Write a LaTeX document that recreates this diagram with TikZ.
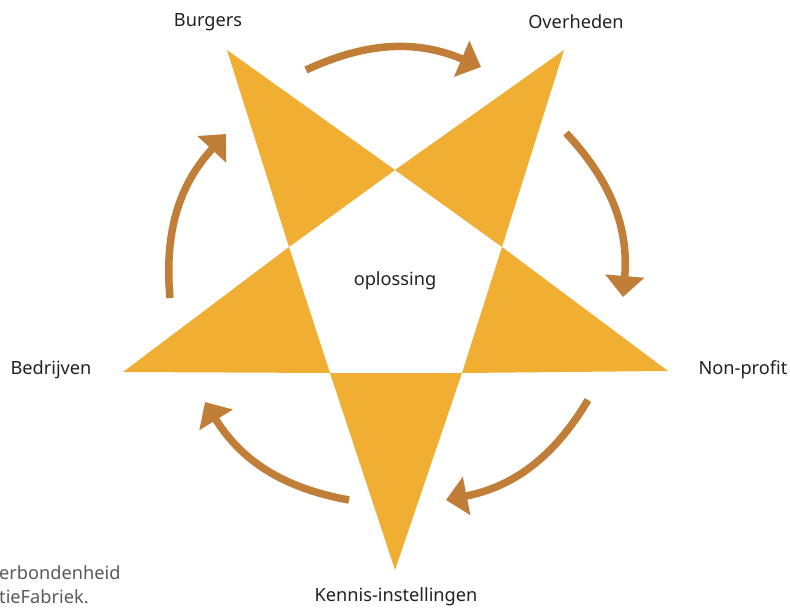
\documentclass[tikz,border=0pt]{standalone}
\usepackage{fontspec}
\setmainfont{Noto Sans}
\usetikzlibrary{arrows.meta}
\definecolor{starfill}{HTML}{F0AE32}
\definecolor{arrowbrown}{HTML}{C17E38}
\definecolor{txt}{HTML}{222222}
\definecolor{greytxt}{HTML}{5A5A5A}
\tikzset{
  tip/.style={fill=starfill, draw=none},
  cyc/.style={draw=arrowbrown, line width=7.5pt, -{Triangle[length=21pt,width=38pt]}, bend left=24},
  lbl/.style={text=txt, font=\fontsize{18.2}{22}\selectfont, inner sep=0pt},
  note/.style={text=greytxt, font=\fontsize{18.2}{22}\selectfont, inner sep=0pt, anchor=west}
}
\begin{document}
\begin{tikzpicture}[x=1pt,y=-1pt]
\useasboundingbox (0,0) rectangle (790,610);
% inner pentagon
\coordinate (pT) at (395,170);
\coordinate (pR) at (502,247);
\coordinate (pBR) at (462,373);
\coordinate (pBL) at (330,373);
\coordinate (pL) at (289,247);
% outer tips
\coordinate (tB) at (227,50);
\coordinate (tO) at (564,50);
\coordinate (tN) at (668,371);
\coordinate (tK) at (395,570);
\coordinate (tE) at (123,372);
\fill[tip] (tB) -- (pT) -- (pL) -- cycle;
\fill[tip] (tO) -- (pR) -- (pT) -- cycle;
\fill[tip] (tN) -- (pBR) -- (pR) -- cycle;
\fill[tip] (tK) -- (pBL) -- (pBR) -- cycle;
\fill[tip] (tE) -- (pL) -- (pBL) -- cycle;
% labels
\node[lbl] (burgers) at (208,22) {Burgers};
\node[lbl] (overheden) at (576,22) {Overheden};
\node[lbl] (nonprofit) at (743,370) {Non-profit};
\node[lbl] (bedrijven) at (51,370) {Bedrijven};
\node[lbl] (kennis) at (396,597) {Kennis-instellingen};
\node[lbl] (oplossing) at (395,281) {oplossing};
\node[note] (n1) at (-1,573) {erbondenheid};
\node[note] (n2) at (-1,597) {tieFabriek.};
% cycle arrows
\coordinate (a1s) at (306,70);  \coordinate (a1e) at (481,67);
\coordinate (a2s) at (566,133); \coordinate (a2e) at (623,297);
\coordinate (a3s) at (588,400); \coordinate (a3e) at (446,500);
\coordinate (a4s) at (349,500); \coordinate (a4e) at (205,402);
\coordinate (a5s) at (170,298); \coordinate (a5e) at (226,134);
\draw[cyc] (a1s) to (a1e);
\draw[cyc] (a2s) to (a2e);
\draw[cyc] (a3s) to (a3e);
\draw[cyc] (a4s) to (a4e);
\draw[cyc] (a5s) to (a5e);
\end{tikzpicture}
\end{document}
